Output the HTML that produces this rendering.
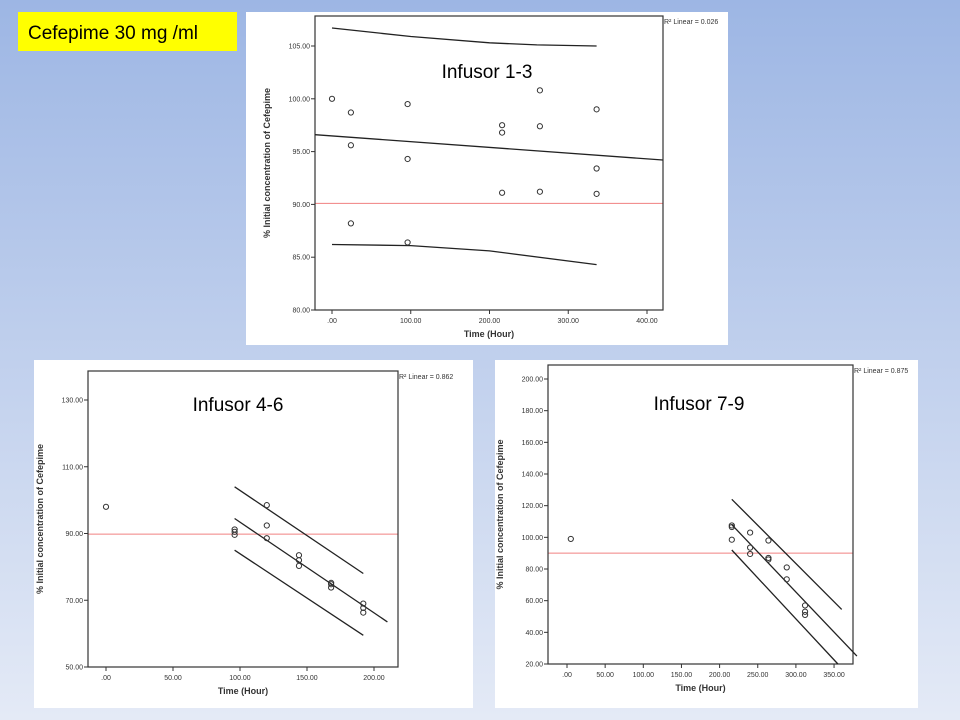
<!DOCTYPE html>
<html><head><meta charset="utf-8"><style>
html,body{margin:0;padding:0;width:960px;height:720px;overflow:hidden;}
svg{display:block;font-family:"Liberation Sans",sans-serif;}
</style></head><body>
<svg id="s" width="960" height="720" viewBox="0 0 960 720" xmlns="http://www.w3.org/2000/svg">
<defs><linearGradient id="bg" x1="0" y1="0" x2="0" y2="1">
<stop offset="0" stop-color="#9db6e4"/><stop offset="1" stop-color="#e4eaf6"/></linearGradient></defs>
<rect width="960" height="720" fill="url(#bg)"/>
<rect x="18" y="12" width="219" height="39" fill="#ffff00"/>
<text x="28" y="39" font-size="19" fill="#000" font-family="'Liberation Sans',sans-serif">Cefepime 30 mg /ml</text>
<rect x="246" y="12" width="482" height="333" fill="#fff"/>
<rect x="34" y="360" width="439" height="348" fill="#fff"/>
<rect x="495" y="360" width="423" height="348" fill="#fff"/>
<g id="g"></g>
</svg>
<script>
var g=document.getElementById('g'),h='';
function panel(o){
  var X=function(t){return o.x0+t*o.xs;},Y=function(v){return o.yb-(v-o.ymin)*o.ys;};
  h+='<line x1="'+o.L+'" y1="'+Y(o.red)+'" x2="'+o.R+'" y2="'+Y(o.red)+'" stroke="#f08080" stroke-width="1"/>';
  h+='<rect x="'+o.L+'" y="'+o.T+'" width="'+(o.R-o.L)+'" height="'+(o.B-o.T)+'" fill="none" stroke="#333" stroke-width="1.2"/>';
  o.yt.forEach(function(v){var y=Y(v);h+='<line x1="'+(o.L-4)+'" y1="'+y+'" x2="'+o.L+'" y2="'+y+'" stroke="#333"/>';
    h+='<text x="'+(o.L-5)+'" y="'+(y+2.5)+'" font-size="7" text-anchor="end" fill="#333">'+v.toFixed(2)+'</text>';});
  o.xt.forEach(function(t){var x=X(t);h+='<line x1="'+x+'" y1="'+o.B+'" x2="'+x+'" y2="'+(o.B+4)+'" stroke="#333"/>';
    h+='<text x="'+x+'" y="'+(o.B+13)+'" font-size="7" text-anchor="middle" fill="#333">'+(t==0?'.00':t.toFixed(2))+'</text>';});
  h+='<text x="'+((o.L+o.R)/2)+'" y="'+(o.B+27)+'" font-size="9" font-weight="bold" text-anchor="middle" fill="#333">Time (Hour)</text>';
  var cy=(o.T+o.B)/2,cx=o.L-45;
  h+='<text transform="translate('+cx+','+cy+') rotate(-90)" font-size="9" font-weight="bold" text-anchor="middle" fill="#333">% Initial concentration of Cefepime</text>';
  h+='<text x="'+(o.R+1)+'" y="'+(o.T+8)+'" font-size="7" fill="#333">R² Linear = '+o.r2+'</text>';
  h+='<text x="'+o.tx+'" y="'+o.ty+'" font-size="19" text-anchor="middle" fill="#000">'+o.title+'</text>';
  o.lines.forEach(function(l){var p=l.map(function(q){return X(q[0]).toFixed(1)+','+Y(q[1]).toFixed(1);}).join(' ');
    h+='<polyline points="'+p+'" fill="none" stroke="#222" stroke-width="1.3"/>';});
  o.pts.forEach(function(q){h+='<circle cx="'+X(q[0])+'" cy="'+Y(q[1])+'" r="2.6" fill="none" stroke="#333" stroke-width="1"/>';});
}
panel({L:315,T:16,R:663,B:310,x0:332,xs:0.7875,yb:310,ymin:80,ys:10.56,red:90.1,
 yt:[80,85,90,95,100,105],xt:[0,100,200,300,400],r2:'0.026',title:'Infusor 1-3',tx:487,ty:78,
 lines:[[[-21.6,96.6],[420,94.2]],[[0,106.7],[100,105.9],[200,105.3],[260,105.1],[336,105]],[[0,86.2],[100,86.1],[200,85.6],[336,84.3]]],
 pts:[[0,100],[24,98.7],[24,95.6],[24,88.2],[96,99.5],[96,94.3],[96,86.4],[216,97.5],[216,96.8],[216,91.1],[264,100.8],[264,97.4],[264,91.2],[336,99],[336,93.4],[336,91]]});
panel({L:88,T:371,R:398,B:667,x0:106,xs:1.34,yb:667,ymin:50,ys:3.3375,red:89.8,
 yt:[50,70,90,110,130],xt:[0,50,100,150,200],r2:'0.862',title:'Infusor 4-6',tx:238,ty:411,
 lines:[[[96,94.5],[210,63.5]],[[96,104],[192,78]],[[96,85],[192,59.5]]],
 pts:[[0,98],[96,91.2],[96,90.5],[96,89.6],[120,98.5],[120,92.4],[120,88.6],[144,83.5],[144,82],[144,80.3],[168,75.2],[168,74.8],[168,73.8],[192,69],[192,67.7],[192,66.3]]});
panel({L:548,T:365,R:853,B:664,x0:567,xs:0.763,yb:664,ymin:20,ys:1.5833,red:90,
 yt:[20,40,60,80,100,120,140,160,180,200],xt:[0,50,100,150,200,250,300,350],r2:'0.875',title:'Infusor 7-9',tx:699,ty:410,
 lines:[[[216,108],[380,25]],[[216,124],[360,54.5]],[[216,92],[355,20]]],
 pts:[[5,99],[216,107.5],[216,106.5],[216,98.5],[240,103],[240,93.5],[240,89.5],[264,98],[264,87],[264,86],[288,81],[288,73.5],[312,57],[312,53],[312,51]]});
g.innerHTML=h;
</script>
</body></html>
